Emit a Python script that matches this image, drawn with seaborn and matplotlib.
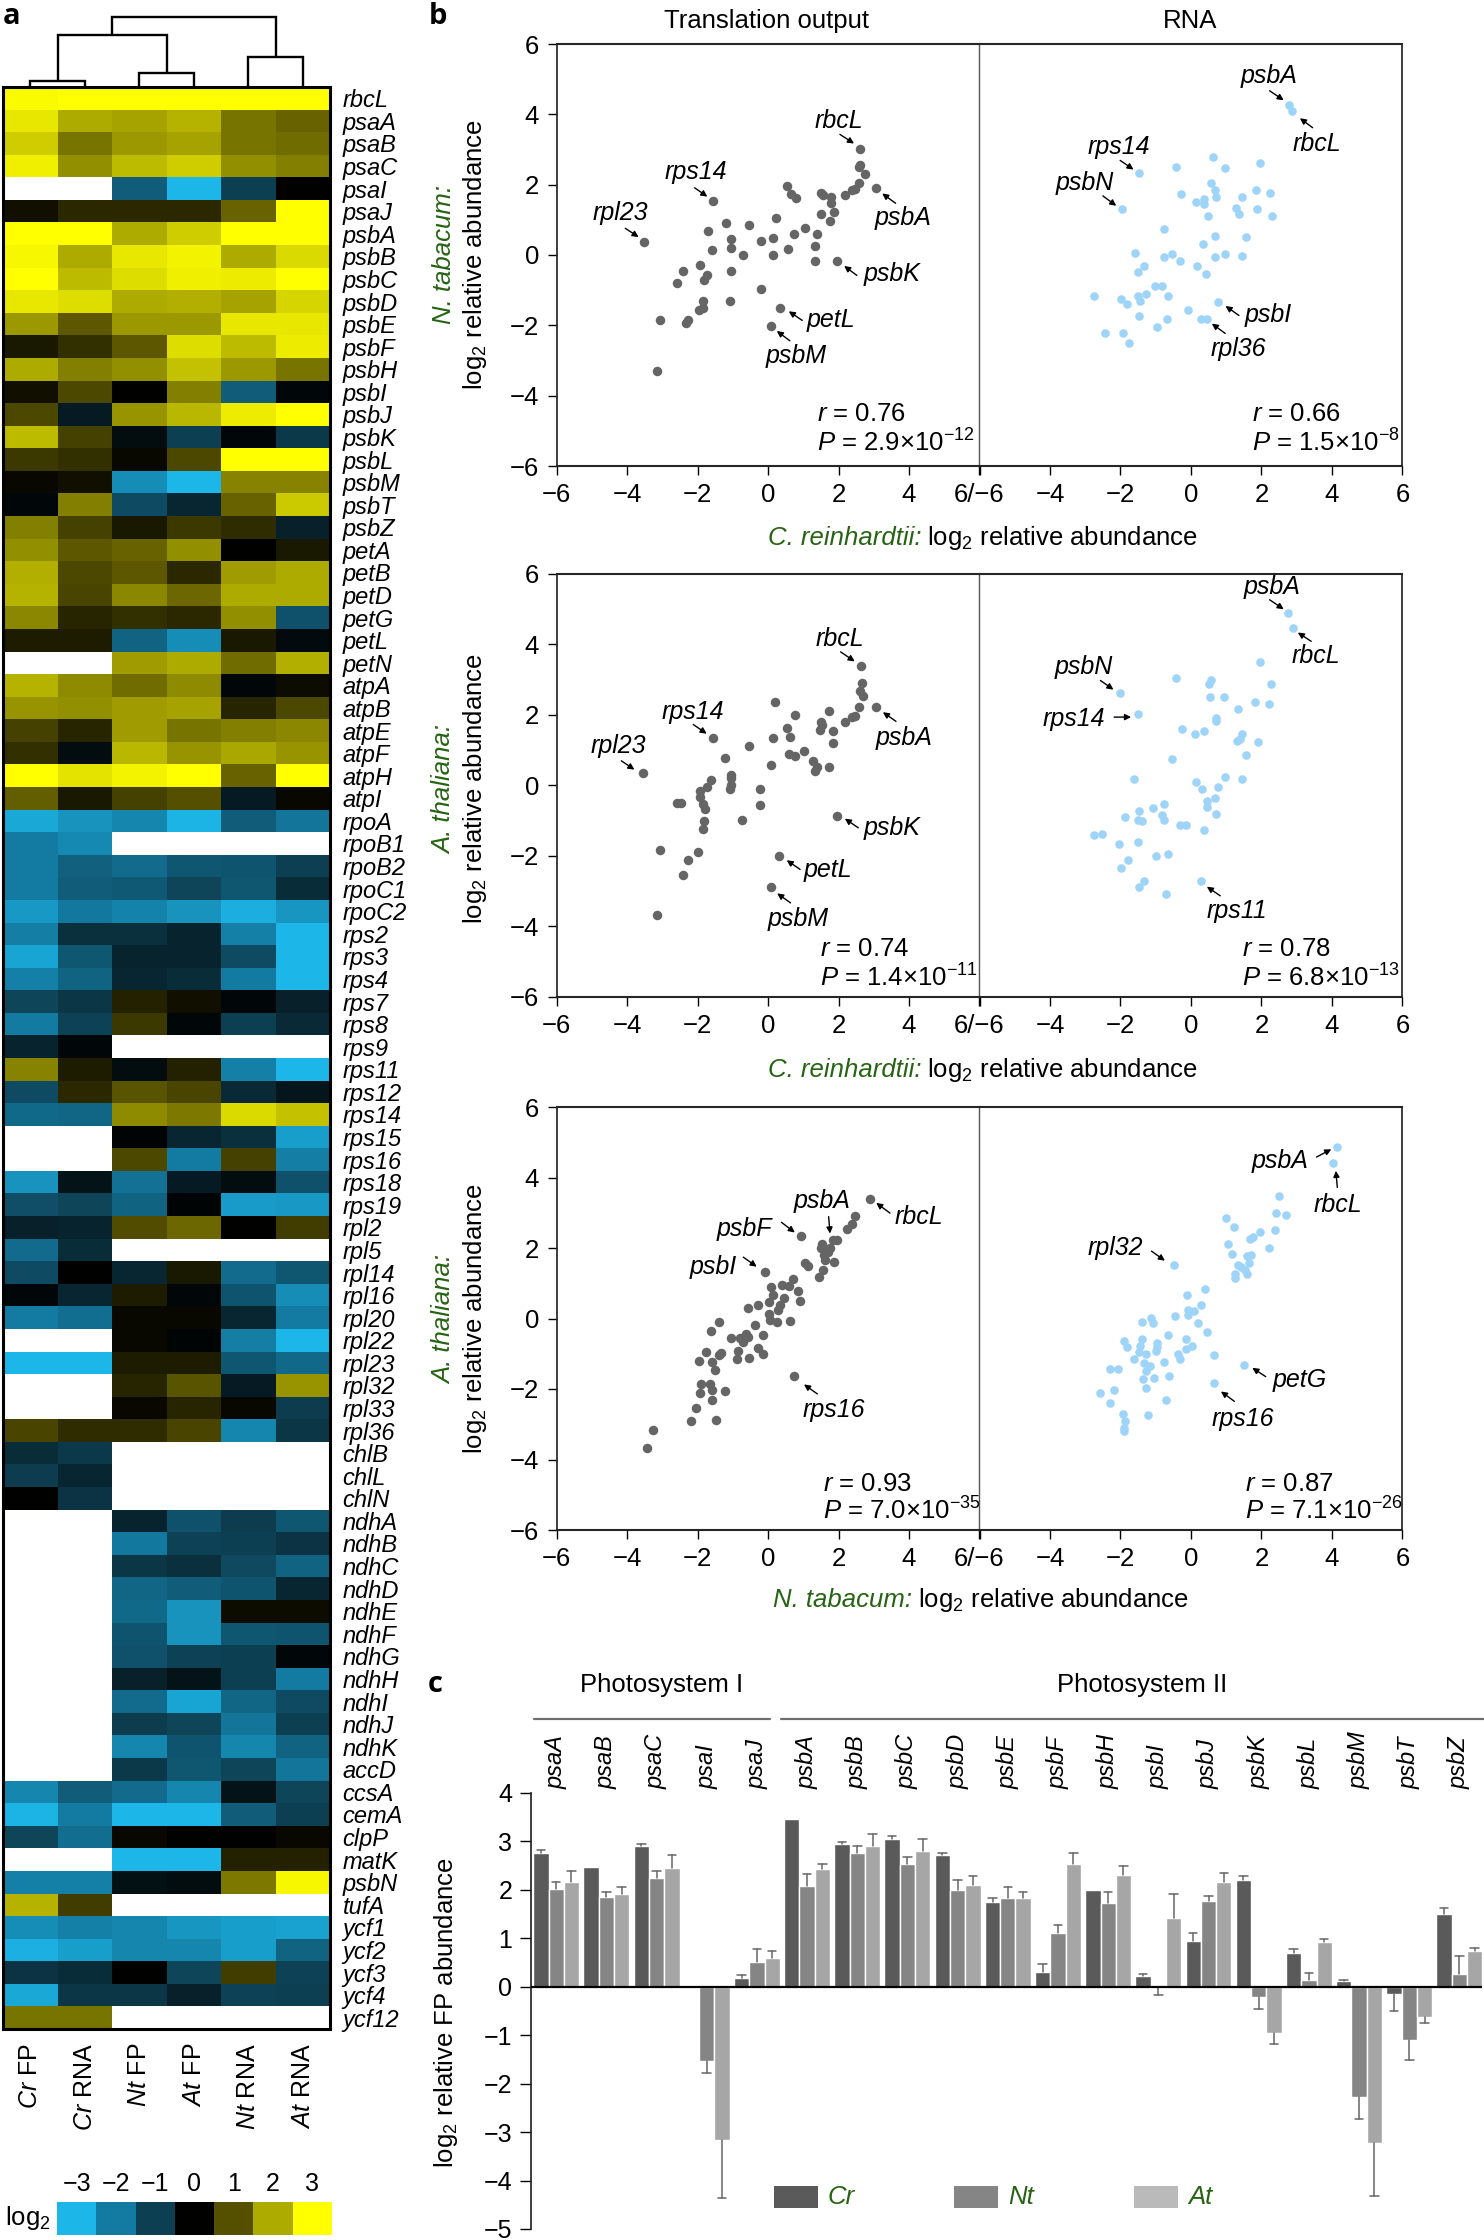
#!/usr/bin/env python3
"""Chloroplast gene expression: heatmap, FP/RNA scatter panels and FP bar chart."""

import numpy as np
import pandas as pd
import matplotlib
matplotlib.use("Agg")
import matplotlib.pyplot as plt
from matplotlib.colors import LinearSegmentedColormap
from matplotlib.patches import Rectangle
import seaborn as sns

N = np.nan

# panel a
genes = ["rbcL", "psaA", "psaB", "psaC", "psaI", "psaJ", "psbA", "psbB", "psbC", "psbD", "psbE", "psbF",
         "psbH", "psbI", "psbJ", "psbK", "psbL", "psbM", "psbT", "psbZ", "petA", "petB", "petD", "petG",
         "petL", "petN", "atpA", "atpB", "atpE", "atpF", "atpH", "atpI", "rpoA", "rpoB1", "rpoB2", "rpoC1",
         "rpoC2", "rps2", "rps3", "rps4", "rps7", "rps8", "rps9", "rps11", "rps12", "rps14", "rps15", "rps16",
         "rps18", "rps19", "rpl2", "rpl5", "rpl14", "rpl16", "rpl20", "rpl22", "rpl23", "rpl32", "rpl33",
         "rpl36", "chlB", "chlL", "chlN", "ndhA", "ndhB", "ndhC", "ndhD", "ndhE", "ndhF", "ndhG", "ndhH",
         "ndhI", "ndhJ", "ndhK", "accD", "ccsA", "cemA", "clpP", "matK", "psbN", "tufA", "ycf1", "ycf2",
         "ycf3", "ycf4", "ycf12"]
heat_columns = [r"$\mathit{Cr}$ FP", r"$\mathit{Cr}$ RNA", r"$\mathit{Nt}$ FP",
                r"$\mathit{At}$ FP", r"$\mathit{Nt}$ RNA", r"$\mathit{At}$ RNA"]
heat_values = [
    [2.95, 3, 3, 3, 3, 3], [2.7, 2.0, 1.9, 2.1, 1.4, 1.2], [2.4, 1.4, 1.8, 1.9, 1.4, 1.3],
    [2.8, 1.7, 2.2, 2.4, 1.7, 1.5], [N, N, -1.5, -3, -1.0, 0], [0.2, 0.5, 0.5, 0.5, 1.2, 3],
    [3, 3, 2.0, 2.4, 3, 3], [2.9, 2.0, 2.7, 2.85, 2.0, 2.55], [3, 2.2, 2.6, 2.8, 2.75, 3],
    [2.7, 2.6, 2.0, 2.05, 1.9, 2.5], [1.8, 1.1, 1.8, 1.8, 2.7, 2.7], [0.3, 0.6, 1.1, 2.6, 2.2, 2.75],
    [2.0, 1.5, 1.7, 2.25, 1.8, 1.4], [0.2, 0.9, 0, 1.5, -1.5, -0.1], [0.9, -0.4, 1.75, 2.15, 2.75, 3],
    [2.2, 0.8, -0.2, -1.0, -0.1, -0.9], [0.7, 0.6, 0.1, 0.9, 3, 3], [0.1, 0.2, -2.3, -3, 1.55, 1.55],
    [-0.1, 1.5, -1.2, -0.6, 1.2, 2.35], [1.5, 0.8, 0.3, 0.7, 0.55, -0.5], [1.7, 1.1, 1.2, 1.7, 0, 0.3],
    [2.05, 0.9, 1.1, 0.5, 1.85, 2.0], [2.1, 0.85, 1.6, 1.25, 2.0, 2.0], [1.6, 0.45, 0.6, 0.5, 1.7, -1.3],
    [0.35, 0.35, -1.6, -2.3, 0.3, -0.15], [N, N, 1.85, 2.0, 1.3, 2.05], [2.1, 1.65, 1.3, 1.65, -0.1, 0.15],
    [1.75, 1.7, 1.85, 1.9, 0.45, 0.9], [0.8, 0.45, 1.85, 1.4, 1.5, 1.6], [0.6, -0.2, 2.15, 1.75, 1.95, 1.75],
    [3, 2.65, 2.85, 3, 1.2, 3], [1.15, 0.3, 0.8, 1.0, -0.4, 0.1], [-2.75, -2.4, -2.2, -2.95, -1.5, -1.9],
    [-2.0, -2.25, N, N, N, N], [-2.0, -1.55, -1.75, -1.4, -1.35, -1.0], [-2.0, -1.5, -1.45, -1.1, -1.4, -0.7],
    [-2.5, -1.95, -2.15, -2.4, -2.85, -2.45], [-2.05, -0.75, -0.75, -0.55, -2.1, -3],
    [-2.7, -1.4, -0.55, -0.55, -1.2, -3], [-2.1, -1.6, -0.6, -0.7, -2.0, -3], [-1.1, -0.85, 0.4, 0.2, -0.1, -0.5],
    [-2.0, -1.05, 0.7, -0.1, -1.0, -0.65], [-0.55, -0.1, N, N, N, N], [1.55, 0.35, -0.2, 0.4, -2.1, -3],
    [-1.2, 0.5, 1.05, 0.85, -0.65, -0.35], [-1.7, -1.65, 1.65, 1.45, 2.55, 2.25], [N, N, -0.05, -0.6, -0.75, -2.6],
    [N, N, 0.9, -2.0, 0.8, -2.05], [-2.4, -0.3, -1.85, -0.4, -0.2, -1.3], [-1.25, -1.1, -1.6, -0.05, -2.55, -2.5],
    [-0.5, -0.55, 0.95, 1.25, 0, 0.75], [-1.75, -0.7, N, N, N, N], [-1.2, 0, -0.6, 0.3, -1.75, -1.4],
    [-0.1, -0.6, 0.35, -0.1, -1.35, -2.3], [-2.0, -1.8, 0.1, 0.1, -0.6, -2.0], [N, N, 0.1, -0.05, -2.05, -3],
    [-3, -3, 0.35, 0.35, -1.4, -1.7], [N, N, 0.45, 1.05, -0.4, 1.75], [N, N, 0.1, 0.45, 0.1, -0.95],
    [0.85, 0.55, 0.55, 0.85, -2.2, -0.85], [-0.7, -0.9, N, N, N, N], [-0.95, -0.6, N, N, N, N], [0, -0.8, N, N, N, N],
    [N, N, -0.55, -1.3, -0.95, -1.4], [N, N, -1.95, -1.05, -1.0, -0.8], [N, N, -0.85, -0.75, -1.15, -1.6],
    [N, N, -1.65, -1.5, -1.35, -0.6], [N, N, -1.7, -2.4, 0.15, 0.15], [N, N, -1.35, -2.4, -1.4, -1.35],
    [N, N, -1.3, -1.05, -1.0, -0.1], [N, N, -0.5, -0.3, -1.0, -2.0], [N, N, -1.75, -2.7, -1.65, -1.2],
    [N, N, -0.95, -1.1, -1.9, -1.0], [N, N, -2.2, -1.35, -2.2, -1.6], [N, N, -0.9, -1.4, -1.1, -1.9],
    [-2.2, -1.5, -1.75, -2.2, -0.3, -1.1], [-2.95, -2.0, -3, -3, -1.5, -1.0], [-1.1, -1.8, 0.1, 0, 0, 0.1],
    [N, N, -3, -3, 0.4, 0.4], [-2.1, -2.1, -0.25, -0.2, 1.45, 2.9], [2.1, 0.75, N, N, N, N],
    [-2.3, -2.1, -2.2, -2.45, -2.6, -2.65], [-2.9, -2.6, -2.2, -2.2, -2.6, -1.6], [-0.8, -0.7, 0, -1.1, 0.75, -1.05],
    [-2.75, -0.85, -0.85, -0.5, -1.05, -1.0], [1.4, 1.4, N, N, N, N],
]
# dendrogram merges: left x, right x, height of the join, height of left and right child
dendro_merges = [(0.5, 1.5, 6, 0, 0), (2.5, 3.5, 14, 0, 0), (4.5, 5.5, 30, 0, 0),
                 (1.0, 3.0, 52, 6, 14), (2.0, 5.0, 70, 52, 30)]
scale_values = [-3, -2, -1, 0, 1, 2, 3]

# panel b, (x, y) per gene
nt_cr_fp = [(2.61, 3.02), (2.61, 2.57), (2.57, 2.51), (2.74, 2.31), (2.57, 2.06), (3.05, 1.91), (2.46, 1.88), (2.39, 1.85),
            (2.18, 1.72), (0.53, 1.96), (0.66, 1.73), (0.79, 1.62), (1.50, 1.75), (1.57, 1.71), (1.80, 1.64), (1.78, 1.47),
            (1.87, 1.22), (1.50, 1.18), (1.76, 0.96), (0.23, 1.06), (-1.55, 1.54), (-1.19, 0.92), (-1.70, 0.68), (-0.53, 0.85),
            (1.04, 0.77), (0.74, 0.61), (1.40, 0.61), (0.15, 0.48), (-0.21, 0.40), (-1.04, 0.46), (-3.52, 0.37), (-1.04, 0.20),
            (-1.59, 0.15), (-0.72, 0), (0.15, 0), (0.57, 0.16), (1.33, 0.27), (1.33, -0.16), (1.97, -0.17), (-1.93, -0.28),
            (-2.42, -0.46), (-1.04, -0.46), (-1.74, -0.57), (-1.82, -0.71), (-2.57, -0.81), (-0.21, -0.97), (-1.84, -1.30),
            (-1.08, -1.30), (-1.84, -1.52), (-1.97, -1.55), (0.34, -1.50), (-3.05, -1.84), (-2.27, -1.85), (-2.33, -1.93),
            (0.08, -2.03), (-3.14, -3.30)]
nt_cr_rna = [(2.78, 4.26), (2.86, 4.09), (0.61, 2.78), (-0.42, 2.50), (0.97, 2.46), (1.95, 2.62), (-1.48, 2.33), (0.57, 2.05),
             (0.68, 1.85), (1.84, 1.85), (2.23, 1.77), (-0.27, 1.73), (0.72, 1.64), (1.44, 1.64), (0.38, 1.60), (0.15, 1.52),
             (0.38, 1.44), (1.29, 1.33), (1.87, 1.31), (-1.95, 1.32), (1.36, 1.16), (0.49, 1.12), (2.31, 1.12), (-0.76, 0.75),
             (0.68, 0.55), (1.57, 0.51), (0.34, 0.30), (-1.59, 0.05), (-0.53, 0.03), (-0.76, -0.06), (0.97, 0.02), (0.68, -0.06),
             (1.46, -0.02), (-0.30, -0.18), (-1.33, -0.31), (0.17, -0.30), (-1.51, -0.47), (0.42, -0.55), (-1.02, -0.87),
             (-0.81, -0.88), (-1.27, -1.12), (-2.76, -1.16), (-1.50, -1.16), (-0.64, -1.16), (-1.99, -1.24), (-1.44, -1.32),
             (-1.82, -1.38), (0.78, -1.33), (-0.09, -1.57), (-1.48, -1.73), (-0.68, -1.81), (0.27, -1.81), (0.45, -1.81),
             (-0.97, -2.05), (-2.44, -2.21), (-1.93, -2.21), (-1.76, -2.51)]
at_cr_fp = [(2.63, 3.40), (2.67, 2.92), (2.61, 2.67), (2.69, 2.55), (0.21, 2.36), (3.07, 2.23), (2.59, 2.23), (1.74, 2.10),
            (2.46, 1.98), (2.39, 1.94), (0.78, 1.99), (2.18, 1.79), (1.50, 1.79), (1.53, 1.71), (0.53, 1.62), (1.48, 1.57),
            (1.85, 1.54), (-1.55, 1.34), (0.13, 1.34), (0.62, 1.38), (1.84, 1.21), (-0.53, 1.13), (1.02, 0.98), (0.59, 0.88),
            (0.76, 0.84), (-1.23, 0.77), (1.29, 0.69), (0.09, 0.57), (1.74, 0.53), (1.40, 0.53), (1.34, 0.40), (-3.56, 0.35),
            (-1.06, 0.31), (-1.06, 0.21), (-1.63, 0.16), (-1.06, 0), (-1.08, -0.10), (-1.74, -0.05), (-0.23, -0.09), (-1.93, -0.17),
            (-1.93, -0.33), (-2.59, -0.50), (-2.46, -0.50), (-1.84, -0.53), (-1.80, -0.67), (-0.23, -0.54), (-0.74, -0.99),
            (-1.82, -1.02), (-1.84, -1.23), (1.97, -0.86), (-3.07, -1.84), (-1.99, -1.89), (-2.27, -2.11), (0.30, -2.00),
            (-2.40, -2.53), (0.08, -2.89), (-3.16, -3.67)]
at_cr_rna = [(2.74, 4.89), (2.88, 4.47), (1.97, 3.51), (-0.42, 3.06), (0.57, 2.99), (0.51, 2.89), (2.27, 2.89), (-2.01, 2.61),
             (0.55, 2.52), (0.95, 2.52), (1.82, 2.37), (2.21, 2.32), (1.34, 2.17), (-1.51, 2.04), (0.70, 1.92), (0.72, 1.84),
             (-0.25, 1.59), (0.38, 1.55), (0.11, 1.47), (1.44, 1.45), (1.38, 1.33), (1.31, 1.25), (1.89, 1.22), (1.57, 0.86),
             (-0.53, 0.74), (0.97, 0.25), (-1.63, 0.18), (1.46, 0.18), (0.15, 0.09), (0.30, -0.11), (0.76, -0.03), (0.68, -0.35),
             (0.44, -0.44), (-0.76, -0.52), (0.45, -0.61), (-1.08, -0.65), (-1.48, -0.72), (-0.83, -0.83), (0.70, -0.80),
             (-1.88, -0.89), (-1.51, -0.97), (-1.38, -1.02), (-0.76, -0.98), (-0.32, -1.12), (-0.15, -1.12), (0.38, -1.26),
             (-2.76, -1.41), (-2.52, -1.37), (-2.03, -1.65), (-1.51, -1.61), (-0.64, -1.94), (-1.00, -2.01), (-1.80, -2.11),
             (-1.99, -2.35), (0.27, -2.71), (-1.33, -2.72), (-1.48, -2.88), (-0.72, -3.07)]
at_nt_fp = [(2.90, 3.40), (2.48, 2.91), (2.39, 2.67), (2.25, 2.55), (0.93, 2.35), (1.84, 2.24), (1.97, 2.24), (1.53, 2.12),
            (1.51, 1.99), (1.76, 1.99), (1.70, 1.90), (1.59, 1.80), (1.63, 1.66), (1.86, 1.60), (1.06, 1.57), (1.14, 1.50),
            (1.57, 1.38), (-0.08, 1.33), (1.46, 1.19), (0.72, 1.13), (0.40, 0.96), (0.59, 0.92), (0.09, 0.89), (0.85, 0.77),
            (0.15, 0.67), (0.45, 0.58), (0.91, 0.51), (0.04, 0.48), (-0.28, 0.39), (-0.57, 0.31), (0.34, 0.38), (0.28, 0.23),
            (0.04, 0.14), (0.06, -0.04), (0.26, -0.09), (0.61, -0.06), (-1.38, -0.10), (-0.36, -0.19), (-1.63, -0.35),
            (-0.13, -0.47), (-0.62, -0.43), (-1.04, -0.55), (-0.79, -0.55), (-0.57, -0.53), (-0.70, -0.67), (-0.28, -0.85),
            (-0.85, -0.92), (-0.15, -1.00), (-1.32, -0.99), (-1.40, -1.04), (-1.76, -0.95), (-0.53, -1.11), (-0.89, -1.16),
            (-1.95, -1.20), (-1.59, -1.23), (-1.51, -1.46), (0.74, -1.64), (-1.91, -1.85), (-1.65, -1.87), (-1.59, -2.03),
            (-1.23, -2.05), (-1.93, -2.11), (-1.59, -2.31), (-2.04, -2.54), (-2.18, -2.90), (-1.48, -2.87), (-3.27, -3.15),
            (-3.43, -3.67)]
at_nt_rna = [(4.13, 4.86), (4.03, 4.41), (2.50, 3.48), (2.42, 2.98), (2.69, 2.94), (1.00, 2.85), (1.21, 2.59), (2.37, 2.50),
             (1.97, 2.46), (1.76, 2.31), (1.67, 2.26), (1.06, 2.10), (2.21, 2.01), (1.17, 1.82), (1.70, 1.81), (1.59, 1.77),
             (-0.47, 1.52), (1.65, 1.57), (1.34, 1.52), (1.42, 1.46), (1.53, 1.39), (1.59, 1.27), (1.25, 1.26), (1.25, 1.14),
             (0.40, 0.84), (-0.11, 0.67), (0.28, 0.39), (-0.08, 0.25), (0.08, 0.20), (-0.09, 0.11), (-0.44, 0.07), (-1.14, 0.02),
             (-1.08, -0.14), (-1.40, -0.09), (0.19, -0.14), (0.44, -0.38), (-0.64, -0.46), (-0.15, -0.58), (-1.38, -0.57),
             (-1.91, -0.65), (-1.82, -0.81), (-0.97, -0.69), (-1.46, -0.79), (-0.97, -0.82), (0.02, -0.77), (-0.15, -0.86),
             (-0.98, -0.92), (-1.48, -0.94), (-1.29, -1.02), (-0.38, -1.02), (0.64, -1.03), (-0.30, -1.16), (-1.61, -1.14),
             (-0.76, -1.23), (-1.34, -1.25), (-1.17, -1.35), (1.51, -1.31), (-1.27, -1.48), (-2.31, -1.44), (-2.08, -1.44),
             (-0.61, -1.64), (-1.06, -1.68), (-1.36, -1.73), (0.64, -1.84), (-1.29, -1.96), (-2.18, -2.04), (-2.59, -2.12),
             (-0.72, -2.30), (-2.31, -2.41), (-1.93, -2.72), (-1.21, -2.73), (-1.86, -2.90), (-1.91, -3.12), (-1.89, -3.20)]

# gene callouts: name, text x, text y, arrow start x, y, arrow end x, y
nt_cr_fp_notes = [("rbcL", 2.01, 3.81, 2.04, 3.43, 2.44, 3.17), ("rps14", -2.06, 2.37, -2.08, 1.91, -1.72, 1.66),
                  ("rpl23", -4.20, 1.19, -4.05, 0.76, -3.67, 0.51), ("psbA", 3.82, 1.05, 3.62, 1.47, 3.24, 1.75),
                  ("psbK", 3.52, -0.54, 2.52, -0.58, 2.16, -0.31), ("petL", 1.78, -1.85, 0.97, -1.86, 0.59, -1.60),
                  ("psbM", 0.79, -2.86, 0.62, -2.44, 0.25, -2.16)]
nt_cr_rna_notes = [("psbA", 2.21, 5.08, 2.23, 4.67, 2.63, 4.40), ("rbcL", 3.58, 3.17, 3.45, 3.62, 3.09, 3.89),
                   ("rps14", -2.06, 3.08, -2.01, 2.69, -1.63, 2.43), ("psbN", -3.01, 2.06, -2.50, 1.68, -2.12, 1.40),
                   ("psbI", 2.20, -1.72, 1.36, -1.72, 0.98, -1.45), ("rpl36", 1.33, -2.66, 0.97, -2.23, 0.59, -1.95)]
at_cr_fp_notes = [("rbcL", 2.03, 4.17, 2.06, 3.79, 2.46, 3.52), ("rps14", -2.12, 2.09, -2.12, 1.73, -1.74, 1.47),
                  ("rpl23", -4.24, 1.11, -4.16, 0.70, -3.79, 0.45), ("psbA", 3.86, 1.36, 3.63, 1.82, 3.26, 2.08),
                  ("psbK", 3.52, -1.21, 2.56, -1.20, 2.18, -0.94), ("petL", 1.70, -2.39, 0.91, -2.38, 0.53, -2.12),
                  ("psbM", 0.85, -3.78, 0.64, -3.33, 0.26, -3.06)]
at_cr_rna_notes = [("psbA", 2.31, 5.63, 2.23, 5.27, 2.63, 5.00), ("rbcL", 3.54, 3.66, 3.41, 4.09, 3.03, 4.34),
                   ("psbN", -3.03, 3.35, -2.57, 2.98, -2.20, 2.72), ("rps14", -3.31, 1.90, -2.18, 1.94, -1.70, 1.94),
                   ("rps11", 1.29, -3.56, 0.83, -3.13, 0.45, -2.87)]
at_nt_fp_notes = [("psbA", 1.53, 3.34, 1.72, 2.89, 1.76, 2.41), ("rbcL", 4.28, 2.89, 3.46, 2.99, 3.07, 3.28),
                  ("psbF", -0.68, 2.53, 0.38, 2.73, 0.76, 2.44), ("psbI", -1.55, 1.46, -0.70, 1.74, -0.32, 1.47),
                  ("rps16", 1.87, -2.60, 1.40, -2.14, 1.02, -1.87)]
at_nt_rna_notes = [("psbA", 2.54, 4.47, 3.56, 4.58, 3.98, 4.80), ("rbcL", 4.16, 3.23, 4.15, 3.72, 4.11, 4.19),
                   ("rpl32", -2.14, 2.01, -1.12, 1.91, -0.74, 1.64), ("petG", 3.09, -1.75, 2.12, -1.65, 1.74, -1.40),
                   ("rps16", 1.48, -2.84, 1.23, -2.35, 0.85, -2.07)]

# panel c
bar_genes = ["psaA", "psaB", "psaC", "psaI", "psaJ", "psbA", "psbB", "psbC", "psbD", "psbE", "psbF", "psbH", "psbI",
             "psbJ", "psbK", "psbL", "psbM", "psbT", "psbZ"]
cr_fp = [2.76, 2.47, 2.91, N, 0.18, 3.46, 2.95, 3.05, 2.73, 1.76, 0.30, 2.00, 0.22, 0.95, 2.20, 0.70, 0.11, -0.15, 1.50]
nt_fp = [2.02, 1.85, 2.25, -1.53, 0.51, 2.07, 2.77, 2.53, 2.00, 1.84, 1.10, 1.73, -0.03, 1.77, -0.22, 0.15, -2.28, -1.10, 0.26]
at_fp = [2.17, 1.92, 2.46, -3.16, 0.59, 2.43, 2.90, 2.80, 2.10, 1.84, 2.53, 2.31, 1.43, 2.16, -0.96, 0.92, -3.23, -0.62, 0.73]
# outer end of each error bar
cr_err = [2.83, 2.47, 2.95, N, 0.25, 3.46, 2.98, 3.12, 2.76, 1.83, 0.47, 2.00, 0.26, 1.10, 2.28, 0.77, 0.14, -0.49, 1.62]
nt_err = [2.17, 1.95, 2.39, -1.78, 0.77, 2.32, 2.90, 2.68, 2.21, 2.05, 1.28, 1.95, -0.18, 1.87, -0.46, 0.29, -2.73, -1.51, 0.63]
at_err = [2.39, 2.05, 2.73, -4.35, 0.74, 2.54, 3.16, 3.05, 2.28, 1.95, 2.76, 2.50, 1.91, 2.35, -1.18, 0.99, -4.31, -0.74, 0.81]

GREEN = "#266312"
FONT = "Liberation Sans"
W, H = 1484, 2240

sns.set_theme(style="ticks")
plt.rcParams["font.family"] = [FONT, "DejaVu Sans"]
plt.rcParams["mathtext.fontset"] = "custom"
plt.rcParams["mathtext.rm"] = FONT
plt.rcParams["mathtext.it"] = FONT + ":italic"
plt.rcParams["mathtext.bf"] = FONT + ":bold"
plt.rcParams["mathtext.default"] = "regular"
plt.rcParams["text.color"] = "black"
plt.rcParams["xtick.color"] = "black"
plt.rcParams["ytick.color"] = "black"
plt.rcParams["axes.labelcolor"] = "black"

fig = plt.figure(figsize=(W / 100, H / 100), dpi=100, facecolor="white")


def px_axes(x0, y0, x1, y1):
    """Axes from pixel corners, y counted from the top of the picture."""
    return fig.add_axes([x0 / W, 1 - y1 / H, (x1 - x0) / W, (y1 - y0) / H])


def px_text(x, y, s, **kw):
    kw.setdefault("va", "center")
    kw.setdefault("ha", "center")
    kw.setdefault("fontsize", 18.5)
    return fig.text(x / W, 1 - y / H, s, **kw)


# a: heatmap
heat_cmap = LinearSegmentedColormap.from_list(
    "cyan_black_yellow", ["#1cb6e8", "#137aa0", "#0d3f52", "#000000", "#555000", "#adaa00", "#ffff00"])
heat_df = pd.DataFrame(heat_values, index=genes, columns=heat_columns)
ax_heat = px_axes(3, 87, 330, 2029)
sns.heatmap(heat_df, cmap=heat_cmap, vmin=-3, vmax=3, cbar=False, ax=ax_heat, linewidths=0, yticklabels=True)
ax_heat.yaxis.tick_right()
ax_heat.tick_params(axis="y", length=0, pad=9, labelsize=17, labelrotation=0)
for lab in ax_heat.get_yticklabels():
    lab.set_fontstyle("italic")
ax_heat.tick_params(axis="x", length=0, pad=10, labelsize=18, labelrotation=90)
for lab in ax_heat.get_xticklabels():
    lab.set_va("top")
for spine in ax_heat.spines.values():
    spine.set_visible(True)
    spine.set_linewidth(2.2)
    spine.set_color("black")

ax_dendro = px_axes(3, 0, 330, 87)
for left, right, height, h_left, h_right in dendro_merges:
    ax_dendro.plot([left, left, right, right], [h_left, height, height, h_right], color="black", lw=1.7,
                   solid_joinstyle="miter", solid_capstyle="butt")
ax_dendro.set_xlim(0, 6)
ax_dendro.set_ylim(0, 87)
ax_dendro.axis("off")

ax_scale = px_axes(57, 2202, 332, 2235)
sns.heatmap(pd.DataFrame([scale_values], columns=[str(v).replace("-", "\u2212") for v in scale_values]),
            cmap=heat_cmap, vmin=-3, vmax=3, cbar=False, ax=ax_scale, yticklabels=False)
ax_scale.xaxis.tick_top()
ax_scale.tick_params(axis="x", length=0, pad=4, labelsize=18, labelrotation=0)
px_text(5, 2218, "log$_2$", ha="left")


# b: scatter panels
def draw_scatter(ax, points, colour, size, notes, r_text, p_text, stat_x, stat_y):
    pts = pd.DataFrame(points, columns=["x", "y"])
    sns.scatterplot(data=pts, x="x", y="y", color=colour, s=size, linewidth=0, ax=ax, legend=False, zorder=3)
    ax.set_xlim(-6, 6)
    ax.set_ylim(-6, 6)
    ax.set_xlabel("")
    ax.set_ylabel("")
    ax.set_xticks(range(-6, 7, 2))
    ax.tick_params(length=6.5, width=1, labelsize=18.5, pad=6)
    for name, tx, ty, x0, y0, x1, y1 in notes:
        ax.text(tx, ty, name, style="italic", fontsize=18, ha="center", va="center")
        ax.annotate("", xy=(x1, y1), xytext=(x0, y0),
                    arrowprops=dict(arrowstyle="-|>", color="black", lw=1, shrinkA=0, shrinkB=0, mutation_scale=9))
    ax.text(stat_x, stat_y[0], r_text, fontsize=18.5, ha="left", va="center")
    ax.text(stat_x, stat_y[1], p_text, fontsize=18.5, ha="left", va="center")
    for side in ("top", "bottom"):
        ax.spines[side].set_linewidth(1.5)


def minus_labels(values):
    return [str(v).replace("-", "\u2212") for v in values]


panel_rows = [
    (44, 466, nt_cr_fp, nt_cr_rna, nt_cr_fp_notes, nt_cr_rna_notes, "0.76", "2.9×10$^{-12}$", "0.66", "1.5×10$^{-8}$",
     1.40, 1.72, (-4.52, -5.36)),
    (574, 997, at_cr_fp, at_cr_rna, at_cr_fp_notes, at_cr_rna_notes, "0.74", "1.4×10$^{-11}$", "0.78", "6.8×10$^{-13}$",
     1.47, 1.46, (-4.64, -5.47)),
    (1107, 1530, at_nt_fp, at_nt_rna, at_nt_fp_notes, at_nt_rna_notes, "0.93", "7.0×10$^{-35}$", "0.87", "7.1×10$^{-26}$",
     1.57, 1.53, (-4.69, -5.46)),
]
for top, bottom, fp_pts, rna_pts, fp_notes, rna_notes, r_fp, p_fp, r_rna, p_rna, x_fp, x_rna, stat_y in panel_rows:
    ax_fp = px_axes(556.5, top, 979.5, bottom)
    ax_rna = px_axes(979.5, top, 1402.5, bottom)
    draw_scatter(ax_fp, fp_pts, "#656565", 47, fp_notes, r"$\mathit{r}$ = " + r_fp, r"$\mathit{P}$ = " + p_fp, x_fp, stat_y)
    draw_scatter(ax_rna, rna_pts, "#9dd4f7", 38, rna_notes, r"$\mathit{r}$ = " + r_rna, r"$\mathit{P}$ = " + p_rna, x_rna, stat_y)
    ax_fp.set_yticks(range(-6, 7, 2))
    ax_fp.set_yticklabels(minus_labels(range(-6, 7, 2)))
    ax_fp.set_xticklabels(minus_labels(range(-6, 5, 2)) + [""])
    # the divider is the left spine of the right-hand axes, which is drawn last
    ax_fp.spines["right"].set_visible(False)
    ax_rna.spines["left"].set_color("#555555")
    ax_rna.spines["left"].set_linewidth(1)
    ax_rna.tick_params(axis="y", left=False, labelleft=False)
    ax_rna.set_xticklabels(["6/\u22126"] + minus_labels(range(-4, 7, 2)))

px_text(767, 21, "Translation output")
px_text(1190, 21, "RNA")

for y, split, green_part in [(538, 921, "C. reinhardtii:"), (1070, 921, "C. reinhardtii:"), (1600, 912, "N. tabacum:")]:
    px_text(split, y, green_part, ha="right", style="italic", color=GREEN)
    px_text(split + 6, y, "log$_2$ relative abundance", ha="left")

for y_mid, green_part in [(255, "N. tabacum:"), (789, "A. thaliana:"), (1319, "A. thaliana:")]:
    px_text(475, y_mid, "log$_2$ relative abundance", rotation=90)
    px_text(444, y_mid, green_part, rotation=90, style="italic", color=GREEN)

# c: bars
bar_colours = {"Cr": "#5a5a5a", "Nt": "#858585", "At": "#a6a6a6"}
bar_df = pd.DataFrame({"gene": bar_genes * 3,
                       "species": ["Cr"] * 19 + ["Nt"] * 19 + ["At"] * 19,
                       "value": cr_fp + nt_fp + at_fp})
ax_bar = px_axes(530.5, 1793, 1482, 2229)
sns.barplot(data=bar_df, x="gene", y="value", hue="species", hue_order=["Cr", "Nt", "At"], palette=bar_colours,
            order=bar_genes, width=0.915, saturation=1, errorbar=None, legend=False, ax=ax_bar)
for container, ends in zip(ax_bar.containers, [cr_err, nt_err, at_err]):
    for patch in container.patches:
        x_mid = patch.get_x() + patch.get_width() / 2
        value = patch.get_height()
        # seaborn skips the missing value, so look the gene up by position
        end = ends[int(round(x_mid))]
        if np.isnan(end) or np.isnan(value) or abs(end - value) < 1e-6:
            continue
        ax_bar.plot([x_mid, x_mid], [value, end], color="#666666", lw=1.1, zorder=1.5)
        ax_bar.plot([x_mid - 0.085, x_mid + 0.085], [end, end], color="#666666", lw=1.1, zorder=1.5)
ax_bar.axhline(0, color="black", lw=1.6, zorder=4)
ax_bar.set_xlim(-0.512, 18.45)
ax_bar.set_ylim(-5, 4)
ax_bar.set_yticks(range(-5, 5))
ax_bar.set_yticklabels(minus_labels(range(-5, 5)))
ax_bar.set_xlabel("")
ax_bar.set_ylabel("")
ax_bar.tick_params(axis="y", length=8, width=1, labelsize=18, pad=5)
ax_bar.tick_params(axis="x", length=0, bottom=False, top=False, labelbottom=False, labeltop=True,
                   labelsize=17, labelrotation=90, pad=3)
for lab in ax_bar.get_xticklabels():
    lab.set_fontstyle("italic")
for side in ("top", "right", "bottom"):
    ax_bar.spines[side].set_visible(False)
ax_bar.patch.set_alpha(0)

px_text(446, 2012, "log$_2$ relative FP abundance", rotation=90)
px_text(662, 1685, "Photosystem I")
px_text(1142, 1685, "Photosystem II")
for x0, x1 in [(534, 770), (781, 1484)]:
    fig.add_artist(plt.Line2D([x0 / W, x1 / W], [1 - 1719 / H] * 2, color="#6e6e6e", lw=1.6))

for x0, name, colour in [(774, "Cr", "#5a5a5a"), (954, "Nt", "#858585"), (1134, "At", "#bababa")]:
    fig.add_artist(Rectangle((x0 / W, 1 - 2208 / H), 44 / W, 22 / H, transform=fig.transFigure, color=colour, lw=0))
    px_text(x0 + 54, 2197, name, ha="left", style="italic", color=GREEN)

# panel letters
for x, y, letter in [(3, 17, "a"), (429, 17, "b"), (428, 1685, "c")]:
    px_text(x, y, letter, ha="left", fontsize=21, fontweight="bold", family="Open Sans")

fig.savefig("out.png", dpi=100)
